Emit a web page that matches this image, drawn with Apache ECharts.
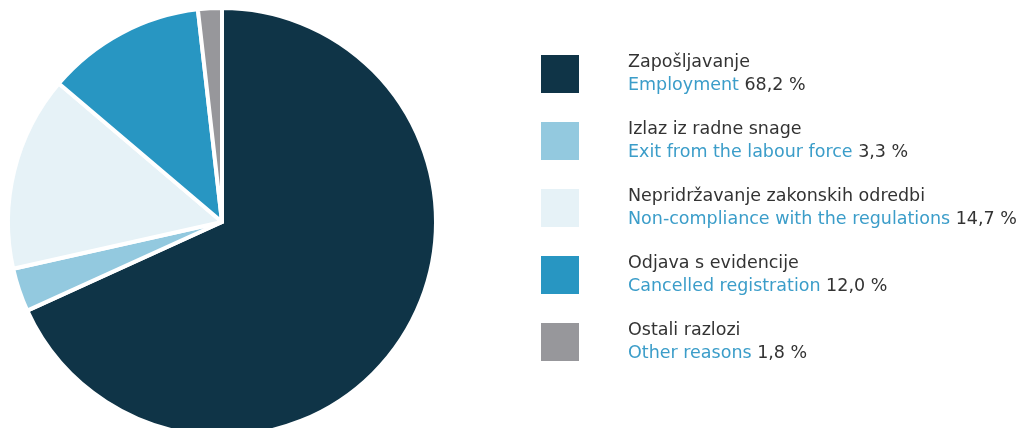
<!DOCTYPE html>
<html>
<head>
<meta charset="utf-8">
<script src="https://cdn.jsdelivr.net/npm/echarts@6/dist/echarts.min.js"></script>
<style>
  html, body { margin: 0; padding: 0; background: #fff; }
  #chart { width: 1024px; height: 428px; }
</style>
</head>
<body>
<div id="chart"></div>
<script>
// labels (Croatian / English) and shares in percent
const namesHr = ['Zapošljavanje', 'Izlaz iz radne snage', 'Nepridržavanje zakonskih odredbi', 'Odjava s evidencije', 'Ostali razlozi'];
const namesEn = ['Employment', 'Exit from the labour force', 'Non-compliance with the regulations', 'Cancelled registration', 'Other reasons'];
const shares = [68.2, 3.3, 14.7, 12.0, 1.8];
const colors = ['#0f3447', '#93c9df', '#e6f2f7', '#2896c2', '#97979b'];

const pieData = shares.map((v, i) => ({
  name: namesHr[i],
  value: v,
  itemStyle: { color: colors[i] }
}));

const font = 'DejaVu Sans';
const fs = 17.5;
const chart = echarts.init(document.getElementById('chart'));
chart.setOption({
  animation: false,
  legend: {
    orient: 'vertical',
    left: 541,
    top: 51,
    padding: 0,
    itemWidth: 38,
    itemHeight: 38,
    itemGap: 21,
    selectedMode: false,
    icon: 'rect',
    itemStyle: { borderWidth: 0 },
    data: namesHr,
    formatter: function (name) {
      const i = namesHr.indexOf(name);
      const pct = shares[i].toFixed(1).replace('.', ',') + ' %';
      return '{gap|}{a|' + name + '}\n{gap|}{b|' + namesEn[i] + '} {c|' + pct + '}';
    },
    textStyle: {
      fontFamily: font,
      fontSize: fs,
      lineHeight: 23,
      rich: {
        gap: { width: 44 },
        a: { color: '#333333', fontSize: fs, fontFamily: font, lineHeight: 23 },
        b: { color: '#3b9dc9', fontSize: fs, fontFamily: font, lineHeight: 23 },
        c: { color: '#333333', fontSize: fs, fontFamily: font, lineHeight: 23 }
      }
    }
  },
  series: [{
    type: 'pie',
    center: [222, 222],
    radius: 214,
    startAngle: 90,
    clockwise: true,
    label: { show: false },
    labelLine: { show: false },
    emphasis: { disabled: true },
    itemStyle: { borderColor: '#ffffff', borderWidth: 4 },
    data: pieData
  }]
});
</script>
</body>
</html>
